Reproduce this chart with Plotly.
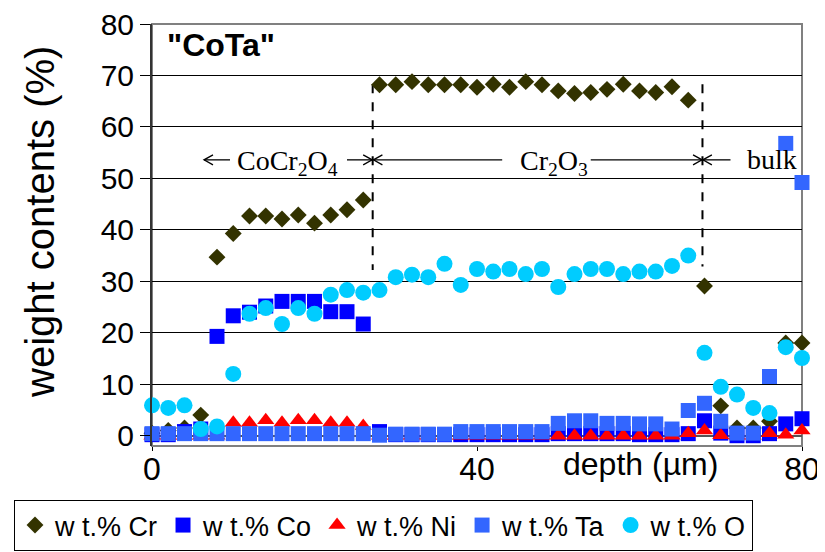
import plotly.graph_objects as go

depth = [0, 2, 4, 6, 8, 10, 12, 14, 16, 18, 20, 22, 24, 26, 28, 30, 32, 34, 36, 38, 40,
         42, 44, 46, 48, 50, 52, 54, 56, 58, 60, 62, 64, 66, 68, 70, 72, 74, 76, 78, 80]

cr = [0.5, 1.0, 1.5, 4.0, 34.7, 39.3, 42.7, 42.7, 42.1, 42.9, 41.3, 42.9, 43.9, 45.8,
      68.2, 68.2, 68.8, 68.2, 68.2, 68.2, 67.7, 68.3, 67.7, 68.8, 68.2, 67.0, 66.5, 66.7,
      67.3, 68.3, 67.0, 66.7, 67.8, 65.2, 29.1, 5.8, 1.5, 1.5, 2.8, 18.0, 18.0]
co = [0.2, 0.2, 0.8, 1.3, 19.3, 23.3, 24.0, 25.2, 26.1, 26.1, 26.1, 24.1, 24.1, 21.7,
      0.8, 0.2, 0.2, 0.2, 0.2, 0.2, 0.2, 0.2, 0.2, 0.2, 0.2, 0.4, 0.4, 0.4,
      0.4, 0.4, 0.2, 0.2, 0.2, 0.4, 2.9, 0.5, 0.0, 0.0, 0.4, 2.3, 3.3]
ni = [0.0, 0.0, 0.0, 0.0, 0.0, 2.5, 2.5, 3.0, 2.5, 3.0, 3.0, 2.5, 2.5, 1.9,
      0.0, 0.0, 0.0, 0.0, 0.0, 0.0, 0.0, 0.0, 0.0, 0.0, 0.0, 0.0, 0.0, 0.0,
      0.0, 0.0, 0.0, 0.0, 0.0, 0.5, 1.0, 0.1, 0.0, 0.0, 0.5, 0.2, 1.0]
ta = [0.4, 0.4, 0.4, 0.4, 0.4, 0.4, 0.4, 0.4, 0.4, 0.4, 0.4, 0.4, 0.4, 0.4,
      0.1, 0.3, 0.3, 0.3, 0.3, 0.8, 0.8, 0.8, 0.8, 0.8, 0.8, 2.4, 2.9, 2.9,
      2.4, 2.4, 2.3, 2.3, 1.3, 4.9, 6.3, 2.8, 0.5, 0.5, 11.5, 56.8, 49.2]
ox = [5.9, 5.4, 5.9, 1.3, 1.8, 12.0, 23.7, 24.8, 21.7, 24.8, 23.7, 27.4, 28.3, 27.8,
      28.3, 30.8, 31.3, 30.8, 33.4, 29.3, 32.4, 31.9, 32.4, 31.4, 32.4, 28.9, 31.4, 32.4,
      32.4, 31.4, 31.9, 31.9, 33.0, 35.0, 16.1, 9.5, 8.0, 5.4, 4.4, 17.2, 15.1]

series_names = ["w t.% Cr", "w t.% Co", "w t.% Ni", "w t.% Ta", "w t.% O"]
x_ticks = [0, 40, 80]
y_ticks = [0, 10, 20, 30, 40, 50, 60, 70, 80]

styles = [
    dict(symbol="diamond", color="#333300", size=13),
    dict(symbol="square", color="#0000FF", size=15),
    dict(symbol="triangle-up", color="#FF0000", size=15),
    dict(symbol="square", color="#3366FF", size=15),
    dict(symbol="circle", color="#00CCFF", size=16),
]

fig = go.Figure()
for name, vals, st in zip(series_names, [cr, co, ni, ta, ox], styles):
    fig.add_trace(go.Scatter(
        x=depth, y=vals, mode="markers", name=name, cliponaxis=False,
        marker=dict(symbol=st["symbol"], color=st["color"], size=st["size"],
                    line=dict(width=0)),
    ))

# page body has an 8px margin: figure is 817x544 so it fills the 825x552 window
fig.update_layout(
    width=817, height=544,
    margin=dict(l=144, r=23, t=16, b=106, autoexpand=False),
    plot_bgcolor="white", paper_bgcolor="white",
    font=dict(family="Liberation Sans", color="black"),
    showlegend=True,
    legend=dict(
        orientation="h", x=-0.2123, xanchor="left", y=-0.128, yanchor="top",
        bordercolor="black", borderwidth=1, bgcolor="white",
        font=dict(size=27, family="Liberation Sans"),
        itemsizing="trace", tracegroupgap=0,
    ),
    xaxis=dict(
        range=[0, 80], tickvals=x_ticks, ticks="outside", ticklen=4, tickcolor="black",
        showgrid=False, zeroline=False, showline=False, automargin=False,
        tickfont=dict(size=32), ticklabelstandoff=-9, ticklabeloverflow="allow",
    ),
    yaxis=dict(
        range=[-2, 80], tickvals=y_ticks, ticks="outside", ticklen=10, tickcolor="black",
        showgrid=True, gridcolor="black", gridwidth=1, automargin=False,
        zeroline=True, zerolinecolor="#555555", zerolinewidth=2,
        showline=True, linecolor="#333333", linewidth=2,
        tickfont=dict(size=30), ticklabeloverflow="allow",
    ),
)

# y-axis title
fig.add_annotation(x=-0.1723, y=0.531, xref="paper", yref="paper", text="weight contents (%)",
                   textangle=-90, showarrow=False, xanchor="center", yanchor="middle",
                   font=dict(family="Liberation Sans", size=40, color="black"))

# plot frame
fig.add_shape(type="rect", xref="paper", yref="paper", x0=0, x1=1, y0=0, y1=1,
              line=dict(color="#808080", width=2), layer="between")

# dashed boundaries
for xb, y_top, y_bot in [(27.16, 68.3, 32.2), (67.75, 68.3, 32.9)]:
    fig.add_shape(type="line", xref="x", yref="y", x0=xb, x1=xb, y0=y_top, y1=y_bot,
                  line=dict(color="black", width=2, dash="dash"), layer="between")

serif = dict(family="Liberation Serif", size=28, color="black")
ya = 53.6
# region labels
fig.add_annotation(x=16.7, y=ya, xref="x", yref="y", text="CoCr<sub>2</sub>O<sub>4</sub>",
                   showarrow=False, font=serif, yanchor="middle", yshift=-3)
fig.add_annotation(x=49.5, y=ya, xref="x", yref="y", text="Cr<sub>2</sub>O<sub>3</sub>",
                   showarrow=False, font=serif, yanchor="middle", yshift=-3)
fig.add_annotation(x=73.0, y=ya, xref="x", yref="y", text="bulk",
                   showarrow=False, font=serif, xanchor="left", yanchor="middle")

# arrows: stem lines + chevron heads (head position, tail position)
for head, tail in [(6.4, 9.6), (27.1, 24.0), (27.25, 43.1), (67.7, 54.0), (67.8, 71.2)]:
    fig.add_shape(type="line", xref="x", yref="y", x0=tail, x1=head, y0=ya, y1=ya,
                  line=dict(color="black", width=1.3))
    d = 1 if tail > head else -1
    fig.add_shape(type="path", xref="x", yref="y", xsizemode="pixel", ysizemode="pixel",
                  xanchor=head, yanchor=ya,
                  path=f"M {9*d},5 L 0,0 L {9*d},-5",
                  line=dict(color="black", width=1.3))

# title
fig.add_annotation(x=0.02, y=0.95, xref="paper", yref="paper", text='<b>"CoTa"</b>',
                   showarrow=False, xanchor="left", yanchor="middle",
                   font=dict(family="Liberation Sans", size=32, color="black"))

# x-axis title inline with tick labels
fig.add_annotation(x=0.751, y=0.0, xref="paper", yref="paper", text="depth (µm)",
                   showarrow=False, xanchor="center", yanchor="top", yshift=2,
                   font=dict(family="Liberation Sans", size=32, color="black"))

fig.write_html("out.html")
